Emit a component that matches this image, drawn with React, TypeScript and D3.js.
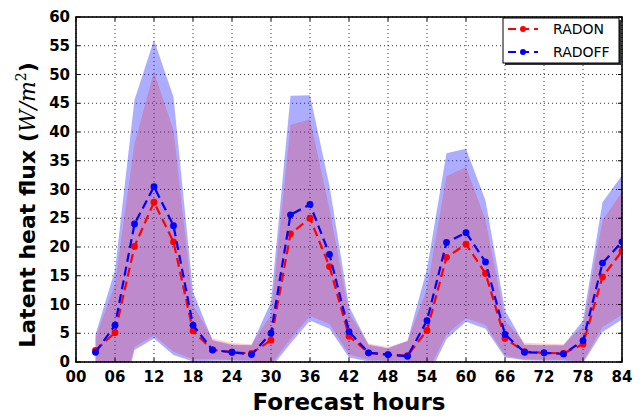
import React, { useEffect, useRef } from 'react';
import * as d3 from 'd3';

// forecast hour of each sample
const hours = [3, 6, 9, 12, 15, 18, 21, 24, 27, 30, 33, 36, 39, 42, 45, 48, 51, 54, 57, 60, 63, 66, 69, 72, 75, 78, 81, 84];

// ensemble means
const radOn = [2.0, 5.1, 20.1, 27.8, 20.9, 5.4, 2.1, 1.7, 1.5, 3.8, 22.3, 25.0, 16.6, 4.5, 1.6, 1.3, 1.1, 5.5, 18.2, 20.5, 15.4, 4.1, 1.8, 1.6, 1.5, 3.1, 14.8, 19.3];
const radOff = [1.7, 6.4, 24.0, 30.5, 23.7, 6.4, 2.1, 1.7, 1.3, 5.0, 25.6, 27.4, 18.7, 5.3, 1.6, 1.3, 1.0, 7.2, 20.8, 22.5, 17.4, 4.8, 1.7, 1.6, 1.4, 3.7, 17.2, 20.9];

// spread (upper / lower bounds)
const radOnUpper = [4.2, 13.5, 38.0, 50.5, 40.3, 9.9, 4.1, 3.3, 3.1, 8.2, 41.2, 42.2, 26.6, 8.5, 3.2, 2.6, 3.6, 12.8, 32.3, 33.9, 24.7, 7.2, 3.3, 3.2, 3.1, 6.2, 24.6, 29.6];
const radOnLower = [-3, -10, 2.6, 4.6, 1.8, 0.5, 0.5, 0.4, 0.3, -0.5, 4.0, 8.0, 6.6, 1.3, 0.4, 0.2, 0.3, -2, 4.8, 7.6, 6.5, 1.1, 0.5, 0.4, 0.4, 0.1, 6.1, 8.2];
const radOffUpper = [4.8, 16.0, 45.6, 56.0, 46.1, 12.2, 3.8, 3.0, 2.9, 10.5, 46.3, 46.4, 30.6, 9.7, 3.0, 2.4, 3.7, 16.2, 36.3, 37.1, 28.1, 9.0, 3.0, 2.9, 2.9, 7.2, 27.8, 32.5];
const radOffLower = [-4, -12, 2.1, 4.1, 1.2, 0.1, 0.2, 0.2, 0.1, -1, 3.2, 7.2, 5.8, 0.8, 0.1, 0.1, 0.1, -3, 4.0, 7.0, 5.8, 0.8, 0.3, 0.2, 0.2, -0.2, 5.2, 7.4];

const xTicks = [0, 6, 12, 18, 24, 30, 36, 42, 48, 54, 60, 66, 72, 78, 84];
const yTicks = [0, 5, 10, 15, 20, 25, 30, 35, 40, 45, 50, 55, 60];

const App = () => {
  const svgRef = useRef(null);

  useEffect(() => {
    const W = 642;
    const H = 420;
    const margin = { top: 17, right: 20, bottom: 58, left: 76 };
    const width = W - margin.left - margin.right;
    const height = H - margin.top - margin.bottom;

    const root = d3.select(svgRef.current);
    root.selectAll('*').remove();
    root.attr('width', W).attr('height', H);

    const svg = root.append('g')
      .attr('transform', `translate(${margin.left},${margin.top})`);

    const x = d3.scaleLinear().domain([0, 84]).range([0, width]);
    const y = d3.scaleLinear().domain([0, 60]).range([height, 0]);

    root.append('defs').append('clipPath').attr('id', 'plotclip')
      .append('rect').attr('width', width).attr('height', height);

    // grid
    const grid = svg.append('g');
    xTicks.forEach(t => {
      grid.append('line')
        .attr('x1', x(t)).attr('x2', x(t)).attr('y1', 0).attr('y2', height)
        .attr('stroke', '#000').attr('stroke-width', 0.8).attr('stroke-dasharray', '1,3');
    });
    yTicks.forEach(t => {
      grid.append('line')
        .attr('x1', 0).attr('x2', width).attr('y1', y(t)).attr('y2', y(t))
        .attr('stroke', '#000').attr('stroke-width', 0.8).attr('stroke-dasharray', '1,3');
    });

    const plot = svg.append('g').attr('clip-path', 'url(#plotclip)');

    const band = (lo, hi) => d3.area()
      .x((d, i) => x(hours[i]))
      .y0((d, i) => y(lo[i]))
      .y1((d, i) => y(hi[i]))(hours);

    plot.append('path').attr('d', band(radOffLower, radOffUpper))
      .attr('fill', '#0000ff').attr('fill-opacity', 0.32);
    plot.append('path').attr('d', band(radOnLower, radOnUpper))
      .attr('fill', '#ff0000').attr('fill-opacity', 0.2);

    const series = [
      { name: 'RADON', values: radOn, color: '#ff0000' },
      { name: 'RADOFF', values: radOff, color: '#0000ff' },
    ];

    const line = d3.line()
      .x(d => x(d[0]))
      .y(d => y(d[1]));

    series.forEach(s => {
      const pts = hours.map((h, i) => [h, s.values[i]]);
      plot.append('path')
        .attr('d', line(pts))
        .attr('fill', 'none')
        .attr('stroke', s.color)
        .attr('stroke-width', 2.2)
        .attr('stroke-dasharray', '9,5');
      plot.selectAll(null)
        .data(pts)
        .enter()
        .append('circle')
        .attr('cx', d => x(d[0]))
        .attr('cy', d => y(d[1]))
        .attr('r', 3.4)
        .attr('fill', s.color);
    });

    // inward ticks on all sides
    const ticks = svg.append('g').attr('stroke', '#000').attr('stroke-width', 1);
    xTicks.forEach(t => {
      ticks.append('line').attr('x1', x(t)).attr('x2', x(t)).attr('y1', height).attr('y2', height - 4);
      ticks.append('line').attr('x1', x(t)).attr('x2', x(t)).attr('y1', 0).attr('y2', 4);
    });
    yTicks.forEach(t => {
      ticks.append('line').attr('x1', 0).attr('x2', 4).attr('y1', y(t)).attr('y2', y(t));
      ticks.append('line').attr('x1', width).attr('x2', width - 4).attr('y1', y(t)).attr('y2', y(t));
    });

    // frame
    svg.append('rect')
      .attr('width', width).attr('height', height)
      .attr('fill', 'none').attr('stroke', '#000').attr('stroke-width', 1.6);

    // tick labels
    svg.selectAll('.xl')
      .data(xTicks)
      .enter()
      .append('text')
      .attr('x', d => x(d))
      .attr('y', height + 20)
      .attr('text-anchor', 'middle')
      .style('font-family', 'DejaVu Sans')
      .style('font-size', '15px')
      .style('font-weight', 'bold')
      .text(d => d3.format('02d')(d));

    svg.selectAll('.yl')
      .data(yTicks)
      .enter()
      .append('text')
      .attr('x', -6)
      .attr('y', d => y(d) + 5)
      .attr('text-anchor', 'end')
      .style('font-family', 'DejaVu Sans')
      .style('font-size', '15px')
      .style('font-weight', 'bold')
      .text(d => d);

    // axis titles
    root.append('text')
      .attr('x', margin.left + width / 2)
      .attr('y', 410)
      .attr('text-anchor', 'middle')
      .style('font-family', 'DejaVu Sans')
      .style('font-size', '23px')
      .style('font-weight', 'bold')
      .text('Forecast hours');

    const yl = root.append('text')
      .attr('transform', 'translate(35,205) rotate(-90)')
      .attr('text-anchor', 'middle')
      .style('font-family', 'DejaVu Sans')
      .style('font-size', '22px')
      .style('font-weight', 'bold');
    yl.append('tspan').text('Latent heat flux (');
    yl.append('tspan').style('font-family', 'DejaVu Serif').style('font-style', 'italic')
      .style('font-weight', 'normal').text('W/m');
    yl.append('tspan').attr('dy', -9).style('font-family', 'DejaVu Serif')
      .style('font-weight', 'normal').style('font-size', '14px').text('2');
    yl.append('tspan').attr('dy', 9).text(')');

    // legend
    const lg = root.append('g').attr('transform', 'translate(503,18)');
    lg.append('rect').attr('x', 2).attr('y', 2).attr('width', 116).attr('height', 45).attr('fill', '#333');
    lg.append('rect').attr('width', 116).attr('height', 45)
      .attr('fill', '#fff').attr('stroke', '#000').attr('stroke-width', 1);
    series.forEach((s, i) => {
      const ly = 11 + i * 23;
      lg.append('line')
        .attr('x1', 5).attr('x2', 35).attr('y1', ly).attr('y2', ly)
        .attr('stroke', s.color).attr('stroke-width', 2).attr('stroke-dasharray', '8,5');
      lg.append('circle').attr('cx', 20).attr('cy', ly).attr('r', 3).attr('fill', s.color);
      lg.append('text')
        .attr('x', 50).attr('y', ly + 5)
        .style('font-family', 'DejaVu Sans')
        .style('font-size', '14px')
        .text(s.name);
    });
  }, []);

  return (
    <div style={{ position: 'absolute', left: 0, top: 0 }}>
      <svg ref={svgRef}></svg>
    </div>
  );
};

export default App;
